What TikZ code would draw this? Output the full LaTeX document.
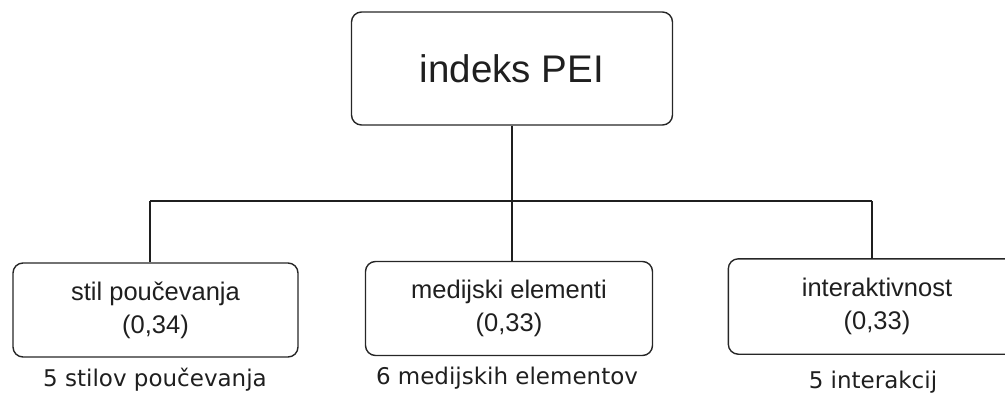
\documentclass[tikz,border=0pt]{standalone}
\usepackage{fontspec}
\setmainfont{Liberation Sans}
\newfontfamily\labfont{DejaVu Sans}
\begin{document}
\begin{tikzpicture}[x=1pt,y=-1pt,
  line width=1.4pt,
  conn/.style={draw=black!88},
  boxline/.style={draw=black!85, rounded corners=10pt},
  topbox/.style={draw=black!85, rounded corners=10pt, minimum width=321pt, minimum height=113pt, inner sep=0pt,
     font=\fontsize{38.5}{44}\selectfont, text=black!88},
  subbox/.style={draw=black!85, rounded corners=10pt, minimum height=94pt, inner sep=0pt,
     align=center, font=\fontsize{25.5}{33}\selectfont, text=black!88},
  lab/.style={inner sep=0pt, font=\labfont\fontsize{23}{28}\selectfont, text=black!88}
]
\useasboundingbox (0,0) rectangle (1005,394);
\clip (0,0) rectangle (1005,394);
\node[topbox] (top) at (512,68.5) {indeks PEI};
\node[subbox, minimum width=285pt] (b1) at (155.5,310) {stil poučevanja\\(0,34)};
\node[subbox, minimum width=287pt] (b2) at (509,308.5) {medijski elementi\\(0,33)};
\node[subbox, draw=none, minimum width=296pt] (b3) at (877,306.5) {interaktivnost\\(0,33)};
\draw[boxline] (b3.north east) -- (b3.north west) -- (b3.south west) -- (b3.south east);
\node[lab] (l1) at (155,380) {5 stilov poučevanja};
\node[lab] (l2) at (507,378) {6 medijskih elementov};
\node[lab] (l3) at (873,382) {5 interakcij};
\coordinate (h1) at (150,201);
\coordinate (h3) at (872,201);
\draw[conn] (h1) -- (h3);
\draw[conn] (top.south) -- (top.south |- h1);
\draw[conn] (h1) -- (h1 |- b1.north);
\draw[conn] (top.south |- h1) -- (top.south |- b2.north);
\draw[conn] (h3) -- (h3 |- b3.north);
\end{tikzpicture}
\end{document}
